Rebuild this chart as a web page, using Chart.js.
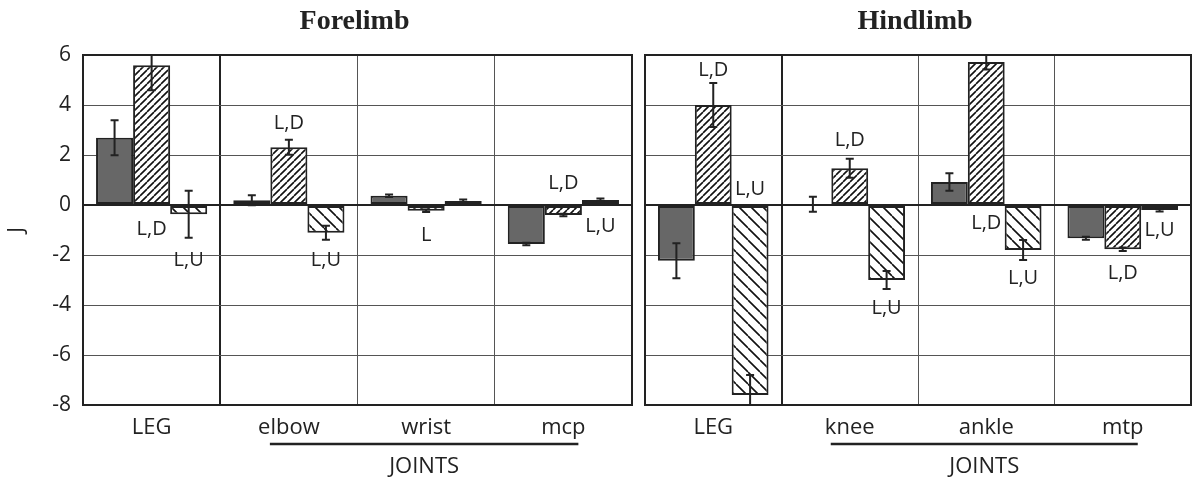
<!DOCTYPE html>
<html>
<head>
<meta charset="utf-8">
<script src="https://cdn.jsdelivr.net/npm/chart.js@4"></script>
<style>
  body { margin: 0; background: #fff; }
  .box { position: absolute; top: 0; height: 479px; }
</style>
</head>
<body>
<div class="box" style="left:0;width:640px"><canvas id="fore"></canvas></div>
<div class="box" style="left:640px;width:554px"><canvas id="hind"></canvas></div>
<script>
// values (J)
const foreCats = ['LEG', 'elbow', 'wrist', 'mcp'];
const hindCats = ['LEG', 'knee', 'ankle', 'mtp'];
const yTicks = [-8, -6, -4, -2, 0, 2, 4, 6];

const foreLevel = [2.69, 0.19, 0.37, -1.56];
const foreLevelErr = [0.7, 0.2, 0.05, 0.05];
const foreDown = [5.59, 2.31, -0.23, -0.4];
const foreDownErr = [1.0, 0.3, 0.05, 0.05];
const foreUp = [-0.37, -1.11, 0.16, 0.2];
const foreUpErr = [0.94, 0.28, 0.06, 0.06];

const hindLevel = [-2.23, 0.03, 0.92, -1.33];
const hindLevelErr = [0.7, 0.3, 0.35, 0.06];
const hindDown = [4.0, 1.47, 5.72, -1.77];
const hindDownErr = [0.88, 0.38, 0.3, 0.07];
const hindUp = [-7.6, -3.0, -1.8, -0.2];
const hindUpErr = [0.8, 0.36, 0.4, 0.06];

// significance notes: [text, category, series, y value]
const foreNotes = [
  ['L,D', 0, 1, -0.96], ['L,U', 0, 2, -2.2],
  ['L,D', 1, 1, 3.27], ['L,U', 1, 2, -2.2],
  ['L', 2, 1, -1.2],
  ['L,D', 3, 1, 0.87], ['L,U', 3, 2, -0.84]
];
const hindNotes = [
  ['L,D', 0, 1, 5.4], ['L,U', 0, 2, 0.63],
  ['L,D', 1, 1, 2.57], ['L,U', 1, 2, -4.13],
  ['L,D', 2, 1, -0.73], ['L,U', 2, 2, -2.93],
  ['L,D', 3, 1, -2.73], ['L,U', 3, 2, -1.03]
];

const ink = '#222';
const font = 'Open Sans';

function hatch(step, back) {
  const c = document.createElement('canvas');
  c.width = step; c.height = step;
  const g = c.getContext('2d');
  g.fillStyle = '#fff';
  g.fillRect(0, 0, step, step);
  g.strokeStyle = '#111';
  g.lineWidth = 1.6;
  g.beginPath();
  for (let k = -1; k <= 1; k++) {
    if (back) {
      g.moveTo(k * step, 0); g.lineTo(k * step + step, step);
    } else {
      g.moveTo(k * step, step); g.lineTo(k * step + step, 0);
    }
  }
  g.stroke();
  return g.createPattern(c, 'repeat');
}

const errorBars = {
  id: 'errorBars',
  afterDatasetsDraw(chart, args, opts) {
    const ctx = chart.ctx, y = chart.scales.y, area = chart.chartArea;
    ctx.save();
    ctx.beginPath();
    ctx.rect(area.left, area.top, area.right - area.left, area.bottom - area.top);
    ctx.clip();
    ctx.strokeStyle = ink;
    ctx.lineWidth = 2;
    chart.data.datasets.forEach((ds, i) => {
      chart.getDatasetMeta(i).data.forEach((bar, j) => {
        const v = ds.data[j], e = ds.errors[j];
        const top = y.getPixelForValue(v + e), bot = y.getPixelForValue(v - e);
        ctx.beginPath();
        ctx.moveTo(bar.x, top); ctx.lineTo(bar.x, bot);
        ctx.moveTo(bar.x - 4, top); ctx.lineTo(bar.x + 4, top);
        ctx.moveTo(bar.x - 4, bot); ctx.lineTo(bar.x + 4, bot);
        ctx.stroke();
      });
    });
    ctx.restore();
  }
};

const decor = {
  id: 'decor',
  afterDraw(chart, args, opts) {
    const ctx = chart.ctx, area = chart.chartArea, x = chart.scales.x, y = chart.scales.y;
    ctx.save();
    // frame
    ctx.strokeStyle = ink;
    ctx.lineWidth = 2;
    ctx.strokeRect(area.left, area.top, area.right - area.left, area.bottom - area.top);
    // notes
    ctx.fillStyle = ink;
    ctx.font = '20px "' + font + '"';
    ctx.textAlign = 'center';
    ctx.textBaseline = 'middle';
    opts.notes.forEach(n => {
      const bar = chart.getDatasetMeta(n[2]).data[n[1]];
      ctx.fillText(n[0], bar.x, y.getPixelForValue(n[3]));
    });
    // panel title
    ctx.font = 'bold 28px "Liberation Serif"';
    ctx.fillText(opts.title, (area.left + area.right) / 2 - 3, 22);
    // joints bracket
    const x1 = x.getPixelForValue(1) - 19, x3 = x.getPixelForValue(3) + 15;
    ctx.lineWidth = 2.5;
    ctx.beginPath();
    ctx.moveTo(x1, 444); ctx.lineTo(x3, 444);
    ctx.stroke();
    ctx.font = '22px "' + font + '"';
    ctx.fillText('JOINTS', (x1 + x3) / 2, 467);
    ctx.restore();
  }
};

function makeChart(id, cats, level, levelErr, down, downErr, up, upErr, notes, title, first) {
  return new Chart(document.getElementById(id), {
    type: 'bar',
    data: {
      labels: cats,
      datasets: [
        { label: 'Level', data: level, errors: levelErr, backgroundColor: '#676767' },
        { label: 'Downhill', data: down, errors: downErr, backgroundColor: hatch(7, false) },
        { label: 'Uphill', data: up, errors: upErr, backgroundColor: hatch(12, true) }
      ]
    },
    options: {
      responsive: true,
      maintainAspectRatio: false,
      animation: false,
      layout: { padding: first ? { top: 55, right: 8, left: 0 } : { top: 55, right: 3, left: 5 } },
      datasets: {
        bar: {
          borderColor: ink, borderWidth: 2, borderSkipped: false,
          categoryPercentage: 0.81, barPercentage: 1
        }
      },
      plugins: {
        legend: { display: false },
        tooltip: { enabled: false },
        decor: { notes: notes, title: title }
      },
      scales: {
        x: {
          grid: {
            offset: true, drawTicks: false,
            color: c => c.index === 1 ? ink : '#555',
            lineWidth: c => c.index === 1 ? 2 : 1
          },
          border: { display: false },
          ticks: { color: ink, font: { family: font, size: 22 }, padding: 10 },
          afterFit: s => { s.height = 74; }
        },
        y: {
          min: -8, max: 6,
          afterBuildTicks: s => { s.ticks = yTicks.map(v => ({ value: v })); },
          grid: {
            drawTicks: false,
            color: c => c.tick && c.tick.value === 0 ? ink : '#555',
            lineWidth: c => c.tick && c.tick.value === 0 ? 2 : 1
          },
          border: { display: false },
          ticks: { display: first, color: ink, font: { family: font, size: 21 }, padding: 12 },
          title: { display: first, text: 'J', color: ink, font: { family: font, size: 21 } },
          afterFit: s => { s.width = first ? 83 : 0; }
        }
      }
    },
    plugins: [errorBars, decor]
  });
}

makeChart('fore', foreCats, foreLevel, foreLevelErr, foreDown, foreDownErr, foreUp, foreUpErr, foreNotes, 'Forelimb', true);
makeChart('hind', hindCats, hindLevel, hindLevelErr, hindDown, hindDownErr, hindUp, hindUpErr, hindNotes, 'Hindlimb', false);
</script>
</body>
</html>
